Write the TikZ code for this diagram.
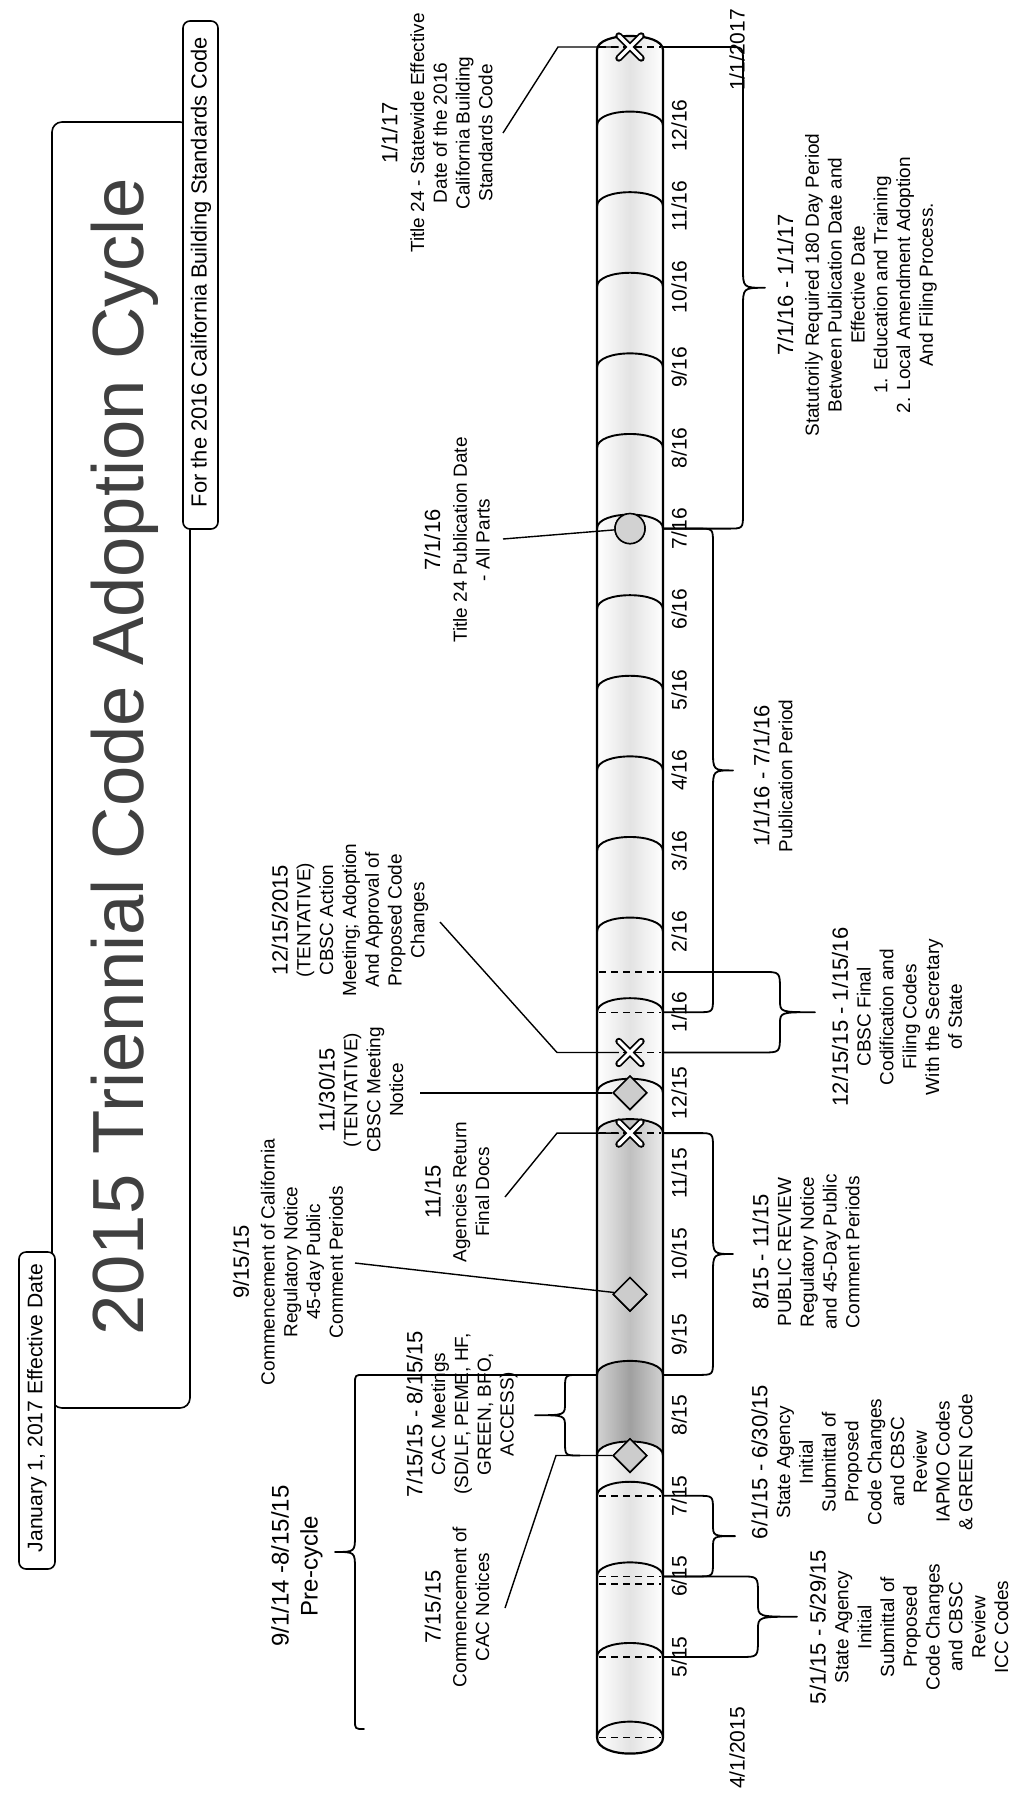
\documentclass[tikz,border=0pt]{standalone}
\usepackage{fontspec}
\setmainfont{Liberation Sans}
\usepackage{graphicx}
\usetikzlibrary{shapes.geometric}
\newcommand\bodyf{\fontsize{19}{22.8}\selectfont}
\newcommand\headf{\fontsize{22}{24}\selectfont}
% brace: #1 x of top end, #2 spine x, #3 tip x, #4 top y, #5 bottom y, #6 corner radius, #7 signed corner offset, #8 tip half height, #9 x of bottom end
\newcommand\brc[9]{%
 \draw[brline] (#1,#4) -- ({#2+#7},#4) .. controls (#2,#4) and (#2,#4) .. (#2,{#4+#6})
  -- (#2,{(#4+#5)/2-#8}) .. controls (#2,{(#4+#5)/2}) and (#2,{(#4+#5)/2}) .. (#3,{(#4+#5)/2})
  .. controls (#2,{(#4+#5)/2}) and (#2,{(#4+#5)/2}) .. (#2,{(#4+#5)/2+#8})
  -- (#2,{#5-#6}) .. controls (#2,#5) and (#2,#5) .. ({#2+#7},#5) -- (#9,#5);}
\newcommand\xmk[1]{%
 \draw[line width=7pt, line cap=round] (#1.north west) -- (#1.south east) (#1.north east) -- (#1.south west);
 \draw[white, line width=3.4pt, line cap=round] (#1.north west) -- (#1.south east) (#1.north east) -- (#1.south west);}
\begin{document}
\begin{tikzpicture}[x=1pt,y=-1pt,
  lbl/.style={rotate=90, align=center, inner sep=0pt, font=\bodyf},
  mon/.style={rotate=90, inner sep=0pt, font=\fontsize{21}{21}\selectfont},
  conn/.style={line width=1.4pt},
  brline/.style={line width=1.8pt, line join=round},
  tubeline/.style={line width=2.2pt},
  arcline/.style={line width=1.9pt},
  chord/.style={dashed, dash pattern=on 7pt off 5pt, line width=1.4pt},
  xnode/.style={minimum size=22pt, inner sep=0pt},
  dia/.style={diamond, draw, line width=1.5pt, fill=gray!40, minimum size=34pt, inner sep=0pt},
  tagbox/.style={draw, line width=1.6pt, rounded corners=7pt, fill=white}]
\useasboundingbox (0,0) rectangle (1031,1796);
\fill[white] (0,0) rectangle (1031,1796);

% ---------- title frame and boxes ----------
\draw[line width=1.6pt, rounded corners=10pt] (52,122) rectangle (190,1408);
\node[rotate=90, anchor=base, inner sep=0pt, text=black!75] (title) at (143,757)
  {\resizebox{1157pt}{!}{\fontsize{60}{60}\selectfont 2015 Triennial Code Adoption Cycle}};
\draw[tagbox] (183,21) rectangle (218,529);
\node[rotate=90, inner sep=0pt] (fortxt) at (201,272)
  {\resizebox{470pt}{!}{\fontsize{22}{22}\selectfont For the 2016 California Building Standards Code}};
\draw[tagbox] (19,1252) rectangle (55,1569);
\node[rotate=90, inner sep=0pt] (jantxt) at (37,1408)
  {\resizebox{288pt}{!}{\fontsize{21}{21}\selectfont January 1, 2017 Effective Date}};

% ---------- tube ----------
\shade[left color=white, right color=white, middle color=gray!22]
  (597,50) .. controls (597,31.3) and (663,31.3) .. (663,50) -- (663,1738)
  .. controls (663,1759.3) and (597,1759.3) .. (597,1738) -- cycle;
\shade[left color=gray!15, right color=gray!15, middle color=gray!50]
  (597,1133.1) .. controls (597,1114.4) and (663,1114.4) .. (663,1133.1) -- (663,1374.9)
  .. controls (663,1356.2) and (597,1356.2) .. (597,1374.9) -- cycle;
\shade[left color=gray!35, right color=gray!35, middle color=gray!75]
  (597,1374.9) .. controls (597,1356.2) and (663,1356.2) .. (663,1374.9) -- (663,1455.5)
  .. controls (663,1436.8) and (597,1436.8) .. (597,1455.5) -- cycle;
\foreach \m in {0,1,2,2.5,3.5,6.5,7,8,9,10,11,12,13,14,15,16,17,18,19}{
  \pgfmathsetmacro\Y{1657-80.6*\m}
  \pgfmathsetmacro\C{\Y-18.7}
  \draw[arcline] (597,\Y) .. controls (597,\C) and (663,\C) .. (663,\Y);}
\draw[arcline] (597,1737.6) .. controls (597,1716.3) and (663,1716.3) .. (663,1737.6);
\foreach \Y in {1737.6,1657,1576.4,1584,1495.8,1133.1,1052.5,1012.2,971.9,47}{
  \draw[chord] (599,\Y) -- (661,\Y);}
\draw[tubeline] (597,1737.6) -- (597,50) .. controls (597,31.3) and (663,31.3) .. (663,50)
  -- (663,1737.6) .. controls (663,1758.9) and (597,1758.9) .. (597,1737.6);

% ---------- markers ----------
\node[xnode] (xtop) at (630,47) {};
\node[circle, draw, line width=1.5pt, fill=gray!35, minimum size=30pt, inner sep=0pt] (c716) at (630,528.6) {};
\node[xnode] (x1215) at (630,1052.5) {};
\node[dia] (d1130) at (630,1092.8) {};
\node[xnode] (x1115) at (630,1133.1) {};
\node[dia] (d915) at (630,1294.3) {};
\node[dia] (d715) at (630,1455.5) {};

% ---------- connectors (left) ----------
\coordinate (a117) at (503,133);
\coordinate (a716) at (503,539);
\coordinate (a1215) at (440,922);
\coordinate (a1130) at (420,1092.8);
\coordinate (a1115) at (505,1197);
\coordinate (a915) at (355,1263);
\coordinate (a715) at (505,1608);
\draw[conn] (a117) -- (558,47) -- (xtop);
\draw[conn] (a716) -- (c716);
\draw[conn] (a1215) -- (557,1052.5) -- (x1215);
\draw[conn] (a1130) -- (d1130);
\draw[conn] (a1115) -- (557,1133.1) -- (x1115);
\draw[conn] (a915) -- (d915);
\draw[conn] (a715) -- (556,1455.5) -- (d715);
\node[dia] at (d1130) {};
\node[dia] at (d915) {};
\node[dia] at (d715) {};
\node[circle, draw, line width=1.5pt, fill=gray!35, minimum size=30pt, inner sep=0pt] at (c716) {};
\xmk{xtop}
\xmk{x1215}
\xmk{x1115}

% ---------- month labels ----------
\node[mon] (m0) at (679,1657) {5/15};
\node[mon] (m1) at (679,1576.4) {6/15};
\node[mon] (m2) at (679,1495.8) {7/15};
\node[mon] (m3) at (679,1415.2) {8/15};
\node[mon] (m4) at (679,1334.6) {9/15};
\node[mon] (m5) at (679,1254) {10/15};
\node[mon] (m6) at (679,1173.4) {11/15};
\node[mon] (m7) at (679,1092.8) {12/15};
\node[mon] (m8) at (679,1012.2) {1/16};
\node[mon] (m9) at (679,931.6) {2/16};
\node[mon] (m10) at (679,851) {3/16};
\node[mon] (m11) at (679,770.4) {4/16};
\node[mon] (m12) at (679,689.8) {5/16};
\node[mon] (m13) at (679,609.2) {6/16};
\node[mon] (m14) at (679,528.6) {7/16};
\node[mon] (m15) at (679,448) {8/16};
\node[mon] (m16) at (679,367.4) {9/16};
\node[mon] (m17) at (679,286.8) {10/16};
\node[mon] (m18) at (679,206.2) {11/16};
\node[mon] (m19) at (679,125.6) {12/16};
\node[mon] (mend) at (737,50) {1/1/2017};
\node[mon] (mstart) at (737,1748) {4/1/2015};

% ---------- braces ----------
\brc{597}{355}{335}{1374.9}{1729}{9}{9}{17}{363}
\brc{597}{565}{535}{1374.9}{1455.5}{14}{14}{12}{580}
\brc{663}{743}{765}{47}{528.6}{15}{-15}{20}{663}
\brc{663}{713}{733}{528.6}{1012.2}{15}{-15}{20}{663}
\brc{663}{780}{815}{971.9}{1052.5}{18}{-18}{12}{663}
\brc{663}{713}{733}{1133.1}{1374.9}{15}{-15}{20}{663}
\brc{663}{713}{735}{1495.8}{1576.4}{15}{-15}{12}{663}
\brc{663}{758}{797}{1576.4}{1657}{18}{-18}{13}{663}

% ---------- left text ----------
\node[lbl] (t117) at (437,133) {{\headf 1/1/17}\\[4pt] Title 24 - Statewide Effective\\ Date of the 2016\\ California Building\\ Standards Code};
\node[lbl] (t716) at (457,540) {{\headf 7/1/16}\\[4pt] Title 24 Publication Date\\ - All Parts};
\node[lbl] (t1215) at (350,920) {{\headf 12/15/2015}\\ (TENTATIVE)\\ CBSC Action\\ Meeting; Adoption\\ And Approval of\\ Proposed Code\\ Changes};
\node[lbl] (t1130) at (361,1090) {{\headf 11/30/15}\\ (TENTATIVE)\\ CBSC Meeting\\ Notice};
\node[lbl] (t1115) at (457,1192) {{\headf 11/15}\\[3pt] Agencies Return\\ Final Docs};
\node[lbl] (t915) at (288,1262) {{\headf 9/15/15}\\[3pt] Commencement of California\\ Regulatory Notice\\ 45-day Public\\ Comment Periods};
\node[lbl] (tcac) at (462,1414) {{\headf 7/15/15 - 8/15/15}\\ CAC Meetings\\ (SD/LF, PEME, HF,\\ GREEN, BFO,\\ ACCESS)};
\node[lbl] (t715) at (457,1607) {{\headf 7/15/15}\\[3pt] Commencement of\\ CAC Notices};
\node[lbl, font=\fontsize{24}{29}\selectfont] (tpre) at (297,1566) {9/1/14 -8/15/15\\ Pre-cycle};

% ---------- right text ----------
\node[lbl] (r180) at (857,285) {{\headf 7/1/16 - 1/1/17}\\[3pt] Statutorily Required 180 Day Period\\ Between Publication Date and\\ Effective Date\\ 1. Education and Training\\ 2. Local Amendment Adoption\\ And Filing Process.};
\node[lbl] (rpub) at (773,776) {{\headf 1/1/16 - 7/1/16}\\ Publication Period};
\node[lbl] (rcbsc) at (897,1017) {{\headf 12/15/15 - 1/15/16}\\ CBSC Final\\ Codification and\\ Filing Codes\\ With the Secretary\\ of State};
\node[lbl] (rpr) at (806,1252) {{\headf 8/15 - 11/15}\\ PUBLIC REVIEW\\ Regulatory Notice\\ and 45-Day Public\\ Comment Periods};
\node[lbl] (r615) at (862,1462) {{\headf 6/1/15 - 6/30/15}\\ State Agency\\ Initial\\ Submittal of\\ Proposed\\ Code Changes\\ and CBSC\\ Review\\ IAPMO Codes\\ \& GREEN Code};
\node[lbl] (r515) at (909,1627) {{\headf 5/1/15 - 5/29/15}\\ State Agency\\ Initial\\ Submittal of\\ Proposed\\ Code Changes\\ and CBSC\\ Review\\ ICC Codes};
\end{tikzpicture}
\end{document}
